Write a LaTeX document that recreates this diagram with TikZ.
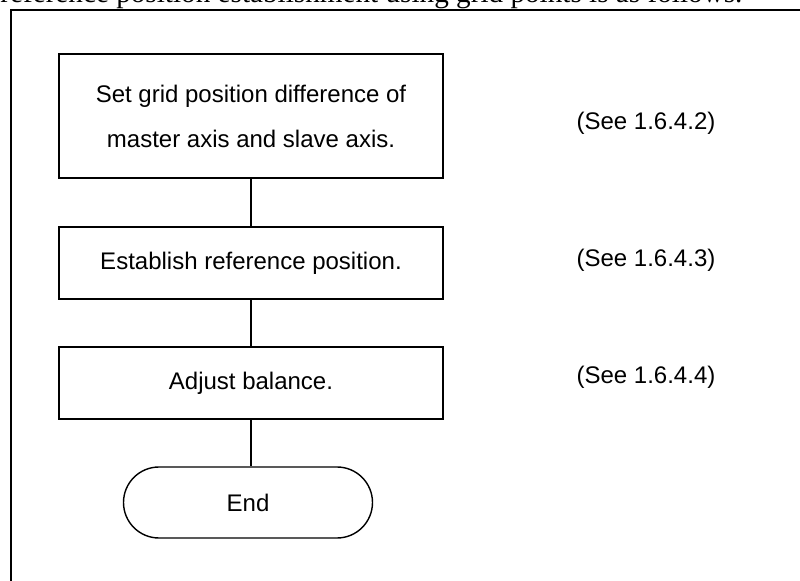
\documentclass[tikz,border=0pt]{standalone}
\usepackage{fontspec}
\setmainfont{Liberation Sans}
\newfontfamily\headfont{Liberation Serif}
\usetikzlibrary{positioning, shapes.misc}
\tikzset{
    stepbox/.style={rectangle, draw=black, line width=0.7pt, minimum width=192pt, inner sep=0pt, align=center, font=\fontsize{12}{24}\selectfont},
    endbox/.style={rounded rectangle, draw=black, line width=0.7pt, minimum width=124.5pt, minimum height=35.5pt, inner sep=0pt, font=\fontsize{12}{14}\selectfont},
    seelabel/.style={inner sep=0pt, font=\fontsize{12}{14}\selectfont},
    flowline/.style={line width=0.7pt},
    frameline/.style={line width=1pt}
}

\begin{document}
\begin{tikzpicture}[x=1pt, y=1pt]
    \useasboundingbox (0,0) rectangle (400,290);

    % Heading running above the frame
    \node[anchor=base west, inner sep=0pt, font=\headfont\fontsize{14.6}{17}\selectfont] (head) at (0,288.8) {reference position establishment using grid points is as follows.};
    \draw[frameline] (5.5,-10) -- (5.5,285) -- (410,285);

    % Steps
    \node[stepbox, minimum height=62pt] (griddiff) at (125.5,232) {Set grid position difference of\\[-1.5pt]master axis and slave axis.};
    \node[stepbox, minimum height=36pt] (refpos) at (125.5,158.5) {Establish reference position.};
    \node[stepbox, minimum height=36pt] (balance) at (125.5,98.5) {Adjust balance.};
    \node[endbox] (finish) at (124,38.75) {End};

    % Section references
    \node[seelabel] (see2) at (323,228.5) {(See 1.6.4.2)};
    \node[seelabel] (see3) at (323,160) {(See 1.6.4.3)};
    \node[seelabel] (see4) at (323,101.5) {(See 1.6.4.4)};

    % Flow lines
    \draw[flowline] (griddiff) -- (refpos);
    \draw[flowline] (refpos) -- (balance);
    \draw[flowline] (balance.south) -- (balance.south |- finish.north);
\end{tikzpicture}
\end{document}
